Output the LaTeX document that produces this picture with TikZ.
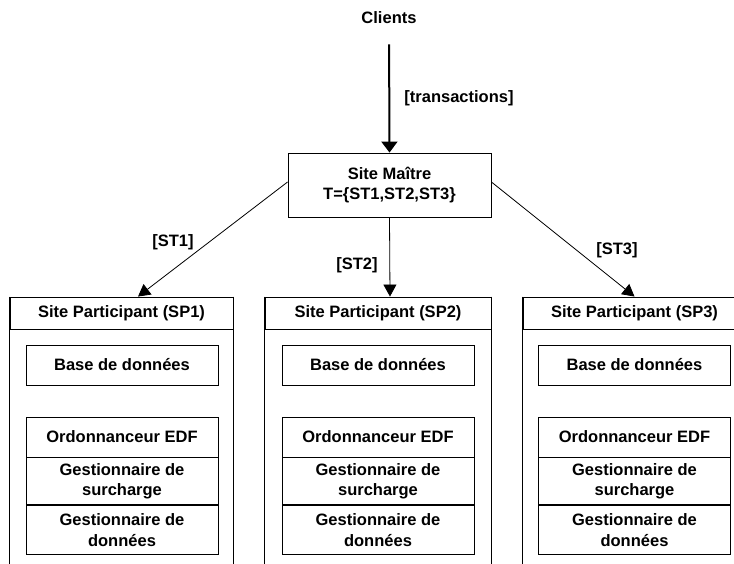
\documentclass[tikz,border=0pt]{standalone}
\usepackage{fontspec}
\setmainfont{Liberation Sans}
\usetikzlibrary{arrows.meta}
\begin{document}
\begin{tikzpicture}[x=1pt,y=-1pt,
  every node/.style={font=\fontsize{16.5}{20.5}\selectfont\bfseries, inner sep=0pt},
  box/.style={draw=black, line width=0.9pt, align=center},
  label/.style={},
  flow/.style={line width=0.8pt, -{Triangle[length=12pt,width=13pt]}},
  bigflow/.style={line width=2pt, -{Triangle[length=11pt,width=16pt]}},
]
\useasboundingbox (0,0) rectangle (734,563);
\clip (0,0) rectangle (734,563);

% top level
\node (clients) at (389,18) {Clients};
\node[box, minimum width=203pt, minimum height=64pt] (master) at (389.5,185)
  {Site Maître\\T=\{ST1,ST2,ST3\}};
\draw[bigflow, shorten <=20pt] (clients.south) -- (master.north);
\node[label] (ltr) at (459,98) {[transactions]};

% participant sites: header, open body, inner components
\foreach \n/\hx/\w/\ix in {1/121.5/223/122, 2/378/226/378, 3/634.5/223/634.5}{
  \node[box, minimum width=\w pt, minimum height=32pt] (sp\n) at (\hx,313)
    {Site Participant (SP\n)};
  \draw[line width=0.9pt] (sp\n.north west) -- ++(0,300)
        (sp\n.north east) -- ++(0,300);
  \node[box, minimum width=192pt, minimum height=40pt] (db\n) at (\ix,365)
    {Base de données};
  \node[box, minimum width=192pt, minimum height=40pt] (edf\n) at (\ix,437)
    {Ordonnanceur EDF};
  \node[box, minimum width=192pt, minimum height=47pt, anchor=north] (gs\n)
    at (edf\n.south) {Gestionnaire de\\surcharge};
  \node[box, minimum width=192pt, minimum height=49pt, anchor=north] (gd\n)
    at (gs\n.south) {Gestionnaire de\\données};
}

% sub-transaction dispatch
\draw[flow] ([yshift=3pt]master.west) -- ([xshift=16.5pt]sp1.north);
\draw[flow] (master.south) -- ([xshift=12pt]sp2.north);
\draw[flow] ([yshift=3pt]master.east) -- (sp3.north);
\node[label] (l1) at (173,242) {[ST1]};
\node[label] (l2) at (357,265) {[ST2]};
\node[label] (l3) at (617,250) {[ST3]};
\end{tikzpicture}
\end{document}
